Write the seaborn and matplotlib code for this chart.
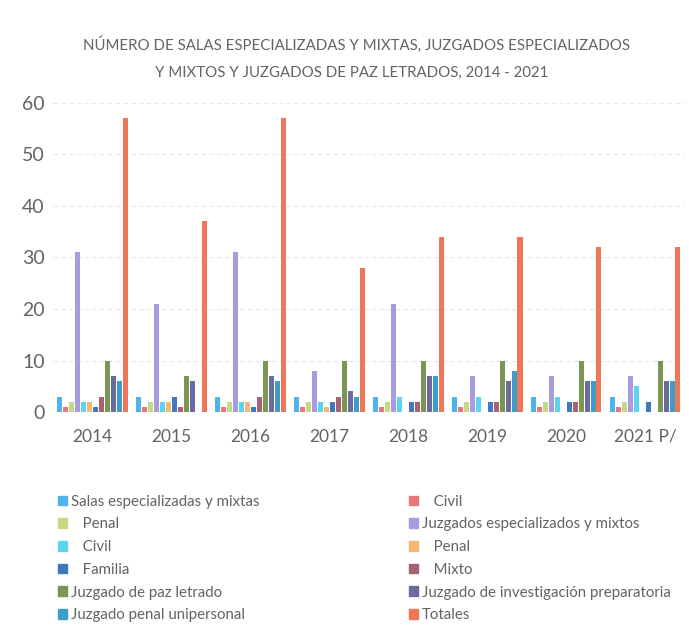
import matplotlib
matplotlib.use("Agg")
import matplotlib.pyplot as plt
import seaborn as sns
import pandas as pd

# Years on the x axis
years = ["2014", "2015", "2016", "2017", "2018", "2019", "2020", "2021 P/"]

# Series values (one value per year)
salas = [3, 3, 3, 3, 3, 3, 3, 3]
salas_civil = [1, 1, 1, 1, 1, 1, 1, 1]
salas_penal = [2, 2, 2, 2, 2, 2, 2, 2]
juz_esp = [31, 21, 31, 8, 21, 7, 7, 7]
juz_civil = [2, 2, 2, 2, 3, 3, 3, 5]
juz_penal = [2, 2, 2, 1, 0, 0, 0, 0]
juz_familia = [1, 3, 1, 2, 2, 2, 2, 2]
juz_mixto = [3, 1, 3, 3, 2, 2, 2, 0]
paz_letrado = [10, 7, 10, 10, 10, 10, 10, 10]
inv_prep = [7, 6, 7, 4, 7, 6, 6, 6]
penal_unip = [6, 0, 6, 3, 7, 8, 6, 6]
totales = [57, 37, 57, 28, 34, 34, 32, 32]

series_keys = ["salas", "salas_civil", "salas_penal", "juz_esp", "juz_civil",
               "juz_penal", "juz_familia", "juz_mixto", "paz_letrado",
               "inv_prep", "penal_unip", "totales"]
series_values = [salas, salas_civil, salas_penal, juz_esp, juz_civil,
                 juz_penal, juz_familia, juz_mixto, paz_letrado,
                 inv_prep, penal_unip, totales]
series_labels = ["Salas especializadas y mixtas", "   Civil", "   Penal",
                 "Juzgados especializados y mixtos", "   Civil", "   Penal",
                 "   Familia", "   Mixto", "Juzgado de paz letrado",
                 "Juzgado de investigación preparatoria",
                 "Juzgado penal unipersonal", "Totales"]
series_colors = ["#4FB3E8", "#E8767A", "#C4D886", "#A99BE0", "#5CD3F0",
                 "#F6B870", "#4078C0", "#A86272", "#7A9652", "#6B6B9E",
                 "#3E9CC8", "#F07658"]

rows = []
for key, vals in zip(series_keys, series_values):
    for yr, v in zip(years, vals):
        rows.append({"year": yr, "serie": key, "valor": v})
df = pd.DataFrame(rows)

sns.set_theme(style="white")
plt.rcParams["font.family"] = ["Lato", "DejaVu Sans"]
text_color = "#636363"

fig = plt.figure(figsize=(6.89, 6.31), dpi=100)
ax = fig.add_axes([0.077, 0.347, 0.917, 0.490])

sns.barplot(data=df, x="year", y="valor", hue="serie", hue_order=series_keys,
            palette=dict(zip(series_keys, series_colors)), order=years,
            width=0.9, gap=0.15, errorbar=None, ax=ax, legend=False,
            saturation=1, linewidth=0)

ax.set_ylim(0, 60)
ax.set_yticks(range(0, 61, 10))
ax.set_xlabel("")
ax.set_ylabel("")
for s in ax.spines.values():
    s.set_visible(False)
ax.yaxis.grid(True, color="#E6E6E6", linewidth=0.8, linestyle=(0, (4, 3)))
ax.set_axisbelow(True)
ax.tick_params(axis="both", length=0, colors=text_color)
ax.tick_params(axis="y", pad=6, labelsize=14)
ax.tick_params(axis="x", pad=12, labelsize=12.5)

fig.text(0.518, 0.929, "NÚMERO DE SALAS ESPECIALIZADAS Y MIXTAS, JUZGADOS ESPECIALIZADOS",
         ha="center", va="center", fontsize=10.8, color=text_color)
fig.text(0.51, 0.884, "Y MIXTOS Y JUZGADOS DE PAZ LETRADOS, 2014 - 2021",
         ha="center", va="center", fontsize=10.8, color=text_color)

# Two legend columns, read row by row
handles = [plt.Rectangle((0, 0), 1, 1, color=c) for c in series_colors]
for col, x0 in ((0, 0.084), (1, 0.594)):
    idx = list(range(col, 12, 2))
    leg = fig.legend([handles[i] for i in idx], [series_labels[i] for i in idx],
                     loc="upper left", bbox_to_anchor=(x0, 0.216),
                     frameon=False, fontsize=10.8, handlelength=0.6,
                     handleheight=0.6, handletextpad=0.25, labelspacing=0.58,
                     borderaxespad=0, borderpad=0)
    for t in leg.get_texts():
        t.set_color(text_color)

fig.savefig("out.png", dpi=100)
